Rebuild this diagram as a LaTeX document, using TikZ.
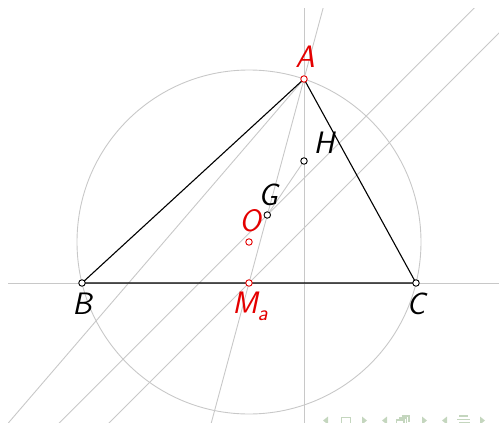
\documentclass[tikz,border=0pt]{standalone}
\usepackage{fontspec}
\usetikzlibrary{calc}
\definecolor{auxgray}{RGB}{200,200,200}
\definecolor{ptred}{RGB}{228,0,0}
\definecolor{navcol}{RGB}{196,214,190}
\tikzset{
  aux/.style={draw=auxgray, line width=0.9pt},
  tri/.style={draw=black, line width=1.1pt},
  pt/.style={circle, draw=black, fill=white, inner sep=0pt, minimum size=6.5pt, line width=0.9pt},
  rpt/.style={pt, draw=ptred},
  lbl/.style={font=\fontsize{31}{36}\selectfont\sffamily\itshape, inner sep=0pt},
  rlbl/.style={lbl, text=ptred},
  nav/.style={fill=navcol, draw=none},
  navline/.style={draw=navcol, line width=1.2pt},
}
\begin{document}
\begin{tikzpicture}[x=1pt,y=-1pt]
\useasboundingbox (0,0) rectangle (499,423);
% points
\coordinate (A) at (304,79);
\coordinate (B) at (82,283);
\coordinate (C) at (416,283);
\coordinate (Ma) at (249,283);
\coordinate (O) at (249,242);
\coordinate (G) at (267.3,215);
\coordinate (H) at (304,161);
\coordinate (L1end) at (8.3,423);
\coordinate (Htop) at (304,0);
\coordinate (Hbot) at (304,430);
\coordinate (BCleft) at (0,283);
\coordinate (BCright) at (510,283);
\begin{scope}
\clip (8,8) rectangle (500,424);
% auxiliary lines
\draw[aux] (O) circle[radius=172];
\draw[aux] (BCleft) -- (BCright);
\draw[aux] (Htop) -- (Hbot);
\draw[aux] ($(Ma)!-0.8!(A)$) -- ($(A)!-0.8!(Ma)$);
\draw[aux] (A) -- ($(A)!1.1!(L1end)$);
\draw[aux] ($(G)+(-250,250)$) -- ($(G)+(250,-250)$);
\draw[aux] ($(Ma)+(-250,250)$) -- ($(Ma)+(300,-300)$);
\draw[aux] (G) -- (H);
% triangle
\draw[tri] (A) -- (B) -- (C) -- cycle;
\end{scope}
% point markers
\node[rpt] (pA) at (A) {};
\node[pt] (pB) at (B) {};
\node[pt] (pC) at (C) {};
\node[rpt] (pMa) at (Ma) {};
\node[rpt] (pO) at (O) {};
\node[pt] (pG) at (G) {};
\node[pt] (pH) at (H) {};
% labels
\node[rlbl] (lA) at (305,57) {A};
\node[lbl] (lH) at (324,143) {H};
\node[lbl] (lG) at (268,195) {G};
\node[rlbl] (lO) at (250,221) {O};
\node[lbl] (lB) at (82,304) {B};
\node[lbl] (lC) at (416,304) {C};
\node[rlbl] (lMa) at (250,306) {M\raisebox{-0.22em}{\fontsize{22}{24}\selectfont a}};
% navigation symbols
\begin{scope}
\clip (0,0) rectangle (499,423);
\fill[nav] (328,416.5) -- (323,420.5) -- (328,424.5) -- cycle;
\draw[navline] (341.5,417.5) rectangle (350.5,426);
\fill[nav] (362,416.5) -- (367,420.5) -- (362,424.5) -- cycle;
\fill[nav] (387,416.5) -- (382,420.5) -- (387,424.5) -- cycle;
\draw[navline] (396.5,420) rectangle (404,427);
\draw[navline] (399,418) -- (406.5,418) -- (406.5,424);
\draw[navline] (401.5,416) -- (409,416) -- (409,422);
\fill[nav] (422,416.5) -- (427,420.5) -- (422,424.5) -- cycle;
\fill[nav] (447,416.5) -- (442,420.5) -- (447,424.5) -- cycle;
\draw[navline] (459,416) -- (468,416);
\draw[navline] (457,419.5) -- (470,419.5);
\draw[navline] (459,423) -- (470,423);
\fill[nav] (480,416.5) -- (485,420.5) -- (480,424.5) -- cycle;
\end{scope}
\end{tikzpicture}
\end{document}
